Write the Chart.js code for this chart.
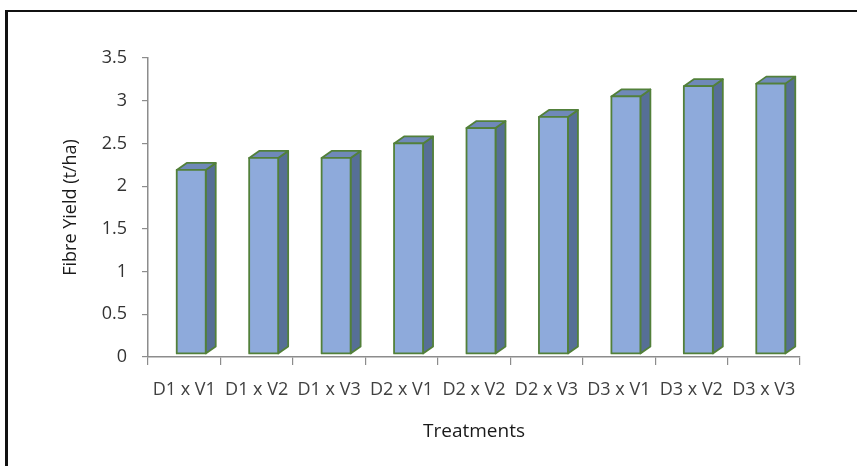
<!DOCTYPE html>
<html>
<head>
<meta charset="utf-8">
<script src="https://cdn.jsdelivr.net/npm/chart.js@4/dist/chart.umd.min.js"></script>
<style>
  html, body { margin: 0; padding: 0; background: #ffffff; }
  #wrap { position: relative; width: 857px; height: 466px; }
</style>
</head>
<body>
<div id="wrap"><canvas id="chart"></canvas></div>
<script>
// Treatment combinations (dates x varieties)
const treatments = ['D1 x V1', 'D1 x V2', 'D1 x V3', 'D2 x V1', 'D2 x V2', 'D2 x V3', 'D3 x V1', 'D3 x V2', 'D3 x V3'];
// Fibre yield, t/ha
const fibreYield = [2.19, 2.33, 2.33, 2.50, 2.68, 2.81, 3.05, 3.17, 3.20];
// Y axis range and tick step
const yMin = 0;
const yMax = 3.5;
const yStep = 0.5;

const FONT = '"Open Sans", "DejaVu Sans", sans-serif';

// Colours for the extruded columns
const FRONT = '#8eaadb';
const SIDE = '#566f96';
const TOP = '#6f89b8';
const EDGE = '#52803a';

// Draws each column as a box: front face, right side and top
const columns3d = {
  id: 'columns3d',
  afterDatasetsDraw(chart) {
    const ctx = chart.ctx;
    const meta = chart.getDatasetMeta(0);
    const dx = 10, dy = 7, shift = 7, floorGap = 3;
    ctx.save();
    ctx.lineWidth = 1.8;
    ctx.lineJoin = 'round';
    ctx.strokeStyle = EDGE;
    meta.data.forEach((bar) => {
      const p = bar.getProps(['x', 'y', 'base', 'width'], true);
      const l = p.x - p.width / 2 + shift;
      const r = l + p.width;
      const t = p.y;
      const b = p.base - floorGap;
      // right side
      ctx.beginPath();
      ctx.moveTo(r, t);
      ctx.lineTo(r + dx, t - dy);
      ctx.lineTo(r + dx, b - dy);
      ctx.lineTo(r, b);
      ctx.closePath();
      ctx.fillStyle = SIDE;
      ctx.fill();
      ctx.stroke();
      // top
      ctx.beginPath();
      ctx.moveTo(l, t);
      ctx.lineTo(l + dx, t - dy);
      ctx.lineTo(r + dx, t - dy);
      ctx.lineTo(r, t);
      ctx.closePath();
      ctx.fillStyle = TOP;
      ctx.fill();
      ctx.stroke();
      // front
      ctx.beginPath();
      ctx.rect(l, t, p.width, b - t);
      ctx.fillStyle = FRONT;
      ctx.fill();
      ctx.stroke();
    });
    ctx.restore();
  }
};

// Black frame on the top and left of the figure
const frame = {
  id: 'frame',
  beforeDraw(chart) {
    const ctx = chart.ctx;
    ctx.save();
    ctx.fillStyle = '#ffffff';
    ctx.fillRect(0, 0, chart.width, chart.height);
    ctx.fillStyle = '#111111';
    ctx.fillRect(5, 10, 3, chart.height - 10);
    ctx.fillRect(5, 10, chart.width - 5, 2);
    ctx.restore();
  }
};

new Chart(document.getElementById('chart'), {
  type: 'bar',
  data: {
    labels: treatments,
    datasets: [{
      label: 'Fibre Yield (t/ha)',
      data: fibreYield,
      backgroundColor: 'rgba(0,0,0,0)',
      borderWidth: 0,
      barPercentage: 0.4,
      categoryPercentage: 1.0
    }]
  },
  options: {
    responsive: true,
    maintainAspectRatio: false,
    animation: false,
    events: [],
    layout: { padding: { left: 50, right: 57, top: 58, bottom: 17 } },
    plugins: {
      legend: { display: false },
      tooltip: { enabled: false }
    },
    scales: {
      x: {
        offset: true,
        grid: {
          offset: true,
          drawOnChartArea: false,
          drawTicks: true,
          tickLength: 8,
          color: '#8c8c8c',
          lineWidth: 1.2
        },
        border: { display: true, color: '#8c8c8c', width: 1.5 },
        ticks: {
          autoSkip: false,
          maxRotation: 0,
          minRotation: 0,
          padding: 14,
          color: '#404040',
          font: { family: FONT, size: 18 }
        },
        title: {
          display: true,
          text: 'Treatments',
          color: '#1a1a1a',
          font: { family: FONT, size: 19 },
          padding: { top: 0, bottom: 6 }
        },
        afterFit(scale) { scale.height = 92; }
      },
      y: {
        min: yMin,
        max: yMax,
        grid: {
          drawOnChartArea: false,
          drawTicks: true,
          tickLength: 6,
          color: '#8c8c8c',
          lineWidth: 1.2
        },
        border: { display: true, color: '#8c8c8c', width: 1.5 },
        ticks: {
          stepSize: yStep,
          padding: 15,
          color: '#333333',
          font: { family: FONT, size: 18 },
          callback: (v) => String(Number(Number(v).toFixed(1)))
        },
        title: {
          display: true,
          text: 'Fibre Yield (t/ha)',
          color: '#1a1a1a',
          font: { family: FONT, size: 18 },
          padding: { top: 10, bottom: 0 }
        },
        afterFit(scale) { scale.width = 98; }
      }
    }
  },
  plugins: [frame, columns3d]
});
</script>
</body>
</html>
